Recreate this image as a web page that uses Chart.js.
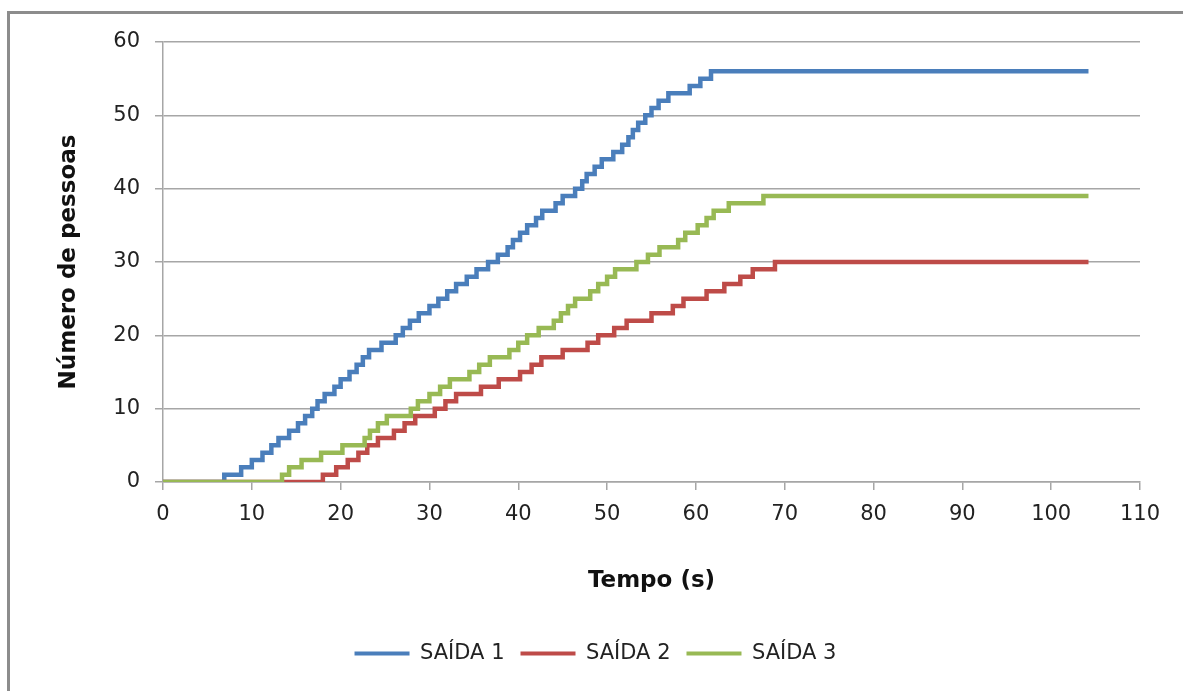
<!doctype html>
<html lang="pt">
  <head>
    <meta charset="UTF-8" />
    <title>Saídas - Número de pessoas</title>
    <script src="https://cdn.jsdelivr.net/npm/chart.js@4.4.0/dist/chart.umd.min.js"></script>
    <style>
      html, body { margin: 0; padding: 0; background: #fff; overflow: hidden; }
      .frame {
        position: absolute; left: 7px; top: 11px; width: 1300px; height: 800px;
        border-left: 3px solid #8c8c8c; border-top: 3px solid #8c8c8c;
      }
      #chart { position: absolute; left: 0; top: 0; }
    </style>
  </head>
  <body>
    <div class="frame"></div>
    <canvas id="chart" width="1183" height="691"></canvas>
    <script>
// time (s) at which each exit reaches 1, 2, 3, ... people
const exit1Times = [6.9, 8.8, 10, 11.2, 12.2, 13, 14.2, 15.2, 16, 16.8,
  17.4, 18.2, 19.3, 20, 21, 21.8, 22.5, 23.2, 24.6, 26.2,
  27, 27.8, 28.8, 30, 31, 32, 33, 34.2, 35.3, 36.6,
  37.7, 38.8, 39.4, 40.2, 41, 42, 42.7, 44.2, 45, 46.4,
  47.2, 47.7, 48.6, 49.4, 50.7, 51.7, 52.4, 52.9, 53.5, 54.3,
  55, 55.8, 56.9, 59.3, 60.5, 61.7];
const exit2Times = [18, 19.5, 20.8, 22, 23, 24.2, 26, 27.2, 28.4, 30.6,
  31.8, 33, 35.8, 37.8, 40.2, 41.5, 42.6, 45, 47.8, 49,
  50.8, 52.2, 55, 57.4, 58.6, 61.2, 63.2, 65, 66.4, 68.9];
const exit3Times = [13.4, 14.2, 15.6, 17.8, 20.2, 22.7, 23.3, 24.2, 25.2, 27.9,
  28.7, 30, 31.2, 32.3, 34.5, 35.6, 36.8, 39, 40, 41,
  42.3, 44, 44.8, 45.6, 46.4, 48.1, 49, 50, 50.9, 53.3,
  54.6, 55.9, 58, 58.8, 60.2, 61.2, 62, 63.7, 67.6];
const endTime = 104.2;

const seriesNames = ['SAÍDA 1', 'SAÍDA 2', 'SAÍDA 3'];
const seriesColors = ['#4a7ebb', '#be4b48', '#98b954'];
const xTicks = [0, 10, 20, 30, 40, 50, 60, 70, 80, 90, 100, 110];
const yTicks = [0, 10, 20, 30, 40, 50, 60];

function toSteps(times) {
    const pts = [{x: 0, y: 0}];
    times.forEach((t, i) => pts.push({x: t, y: i + 1}));
    pts.push({x: endTime, y: times.length});
    return pts;
}

const allTimes = [exit1Times, exit2Times, exit3Times];
const datasets = allTimes.map((times, i) => ({
    label: seriesNames[i],
    data: toSteps(times),
    borderColor: seriesColors[i],
    backgroundColor: seriesColors[i],
    borderWidth: 4.5,
    pointRadius: 0,
    stepped: 'before',
    order: 3 - i   // green drawn on top, like the original
}));

const tickFont = { family: 'DejaVu Sans', size: 21 };
const titleFont = { family: 'DejaVu Sans', size: 23, weight: 'bold' };
const gridColor = '#a6a6a6';

new Chart(document.getElementById('chart'), {
    type: 'line',
    data: { datasets: datasets },
    options: {
        responsive: false,
        animation: false,
        layout: { padding: { left: 51, top: 42, right: 43, bottom: 17 } },
        plugins: {
            tooltip: { enabled: false },
            legend: {
                position: 'bottom',
                labels: {
                    color: '#222',
                    font: { family: 'DejaVu Sans', size: 21 },
                    boxWidth: 55,
                    boxHeight: 4,
                    padding: 16,
                    sort: (a, b) => a.datasetIndex - b.datasetIndex,
                    generateLabels: chart => Chart.defaults.plugins.legend.labels.generateLabels(chart)
                        .map(l => Object.assign(l, { lineWidth: 0 }))
                }
            }
        },
        scales: {
            x: {
                type: 'linear',
                min: 0,
                max: 110,
                afterBuildTicks: s => { s.ticks = xTicks.map(v => ({ value: v })); },
                afterFit: s => { s.height = 145; },
                ticks: { color: '#222', font: tickFont, padding: 12, maxRotation: 0 },
                grid: { drawOnChartArea: false, drawTicks: true, tickLength: 8, color: gridColor, lineWidth: 1.5 },
                border: { color: gridColor, width: 1.5 },
                title: { display: true, text: 'Tempo (s)', color: '#111', font: titleFont, padding: { top: 4, bottom: 32 } }
            },
            y: {
                min: 0,
                max: 60,
                afterBuildTicks: s => { s.ticks = yTicks.map(v => ({ value: v })); },
                afterFit: s => { s.width = 112; },
                ticks: { color: '#222', font: tickFont, padding: 15 },
                grid: { color: gridColor, lineWidth: 1.5, tickLength: 8 },
                border: { color: gridColor, width: 1.5 },
                title: { display: true, text: 'Número de pessoas', color: '#111', font: titleFont, padding: { top: 4, bottom: 4 } }
            }
        }
    }
});
    </script>
  </body>
</html>
